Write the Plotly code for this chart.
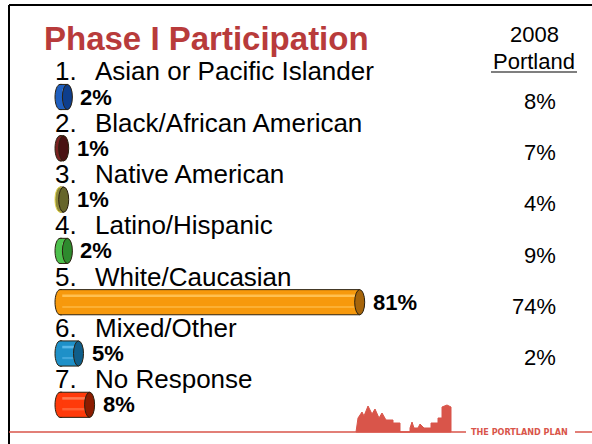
import plotly.graph_objects as go

# ---- data ----
categories = ["Asian or Pacific Islander", "Black/African American", "Native American",
              "Latino/Hispanic", "White/Caucasian", "Mixed/Other", "No Response"]
phase1_pct = [2, 1, 1, 2, 81, 5, 8]
portland_2008 = [8, 7, 4, 9, 74, 2, None]
body_colors = ["#1F5FBF", "#7A2222", "#8E8A3A", "#4CC04C", "#F7990C", "#1E90C8", "#FF3A0A"]
cap_colors = ["#0E3E8C", "#4A1212", "#66652A", "#2E8A2E", "#A7650A", "#0F5E8A", "#8C1C00"]
hi_colors = ["#5A8EE0", "#A04848", "#B8B460", "#80E080", "#FFC050", "#5AB8E8", "#FF7A50"]
rim_colors = ["#2A2010", "#2A2010", "#E8D850", "#2A2010", "#2A2010", "#2A2010", "#2A2010"]

W, H = 592, 444
PX_PER_UNIT = 3.7
ZERO_PX = 60
ROW0_PX, ROW_STEP = 97, 51.3

def px(x):
    return x / W

def py(y):
    return 1 - y / H

xr = [-ZERO_PX / PX_PER_UNIT, (W - ZERO_PX) / PX_PER_UNIT]
yr = [(H - ROW0_PX) / ROW_STEP, -ROW0_PX / ROW_STEP]

idx = list(range(len(categories)))
bar_w = 0.49
cap_a = 5 / PX_PER_UNIT

fig = go.Figure()
fig.add_trace(go.Bar(
    x=phase1_pct, y=idx, orientation="h", width=bar_w,
    marker=dict(color=body_colors, line=dict(color="#2A2010", width=1)),
    hoverinfo="skip", showlegend=False))
fig.add_trace(go.Bar(
    x=phase1_pct, y=idx, orientation="h", width=0.05, offset=-0.15,
    marker=dict(color=hi_colors, line=dict(width=0)),
    hoverinfo="skip", showlegend=False))
fig.add_trace(go.Bar(
    x=phase1_pct, y=idx, orientation="h", width=0.03, offset=0.08,
    marker=dict(color=hi_colors, line=dict(width=0), opacity=0.6),
    hoverinfo="skip", showlegend=False))

shapes = []
annotations = []
k = 0.5523
for i, v in enumerate(phase1_pct):
    top, bot = i - bar_w / 2, i + bar_w / 2
    hb = bar_w / 2
    ext = min(0.6, v * 0.5)
    # left half-ellipse cap
    path = (f"M {ext},{top} L 0,{top} "
            f"C {-k*cap_a},{top} {-cap_a},{i - k*hb} {-cap_a},{i} "
            f"C {-cap_a},{i + k*hb} {-k*cap_a},{bot} 0,{bot} L {ext},{bot}")
    shapes.append(dict(type="path", xref="x", yref="y", path=path,
                       fillcolor=body_colors[i], line=dict(color=rim_colors[i], width=1),
                       layer="above"))
    # right full ellipse cap
    shapes.append(dict(type="circle", xref="x", yref="y",
                       x0=v - cap_a, x1=v + cap_a, y0=top, y1=bot,
                       fillcolor=cap_colors[i], line=dict(color="#2A2010", width=1),
                       layer="above"))
    annotations.append(dict(x=v, y=i, xref="x", yref="y", xanchor="left", yanchor="middle",
                            xshift=5 + 6, showarrow=False,
                            text=f"<b>{v}%</b>", font=dict(size=22, color="black")))
    # category labels
    annotations.append(dict(x=px(53), y=i - 0.5, xref="paper", yref="y", xanchor="left",
                            yanchor="middle", showarrow=False, text=f"{i+1}.",
                            font=dict(size=26, color="black")))
    annotations.append(dict(x=px(93), y=i - 0.5, xref="paper", yref="y", xanchor="left",
                            yanchor="middle", showarrow=False, text=categories[i],
                            font=dict(size=26, color="black")))
    p = portland_2008[i]
    if p is not None:
        annotations.append(dict(x=px(558), y=i + 0.08, xref="paper", yref="y", xanchor="right",
                                yanchor="middle", showarrow=False, text=f"{p}%",
                                font=dict(size=22, color="black")))

# title and column header
annotations.append(dict(x=px(42), y=py(38), xref="paper", yref="paper", xanchor="left",
                        yanchor="middle", showarrow=False, text="<b>Phase I Participation</b>",
                        font=dict(size=33, color="#B83B3B")))
annotations.append(dict(x=px(534), y=py(35), xref="paper", yref="paper", xanchor="center",
                        yanchor="middle", showarrow=False, text="2008",
                        font=dict(size=22, color="black")))
annotations.append(dict(x=px(534), y=py(61), xref="paper", yref="paper", xanchor="center",
                        yanchor="middle", showarrow=False, text="Portland",
                        font=dict(size=22, color="black")))
shapes.append(dict(type="line", xref="paper", yref="paper", x0=px(491), x1=px(577),
                   y0=py(72), y1=py(72), line=dict(color="black", width=1.2)))

# slide frame
shapes.append(dict(type="line", xref="paper", yref="paper", x0=px(9), x1=px(592),
                   y0=py(5), y1=py(5), line=dict(color="black", width=2)))
shapes.append(dict(type="line", xref="paper", yref="paper", x0=px(9), x1=px(9),
                   y0=py(5), y1=py(444), line=dict(color="black", width=2)))

# footer logo
red = "#D9554A"
shapes.append(dict(type="line", xref="paper", yref="paper", x0=px(9), x1=px(466),
                   y0=py(432), y1=py(432), line=dict(color=red, width=1.5)))
shapes.append(dict(type="line", xref="paper", yref="paper", x0=px(575), x1=px(592),
                   y0=py(432), y1=py(432), line=dict(color=red, width=1.5)))
sky = [(356, 432), (358, 418), (362, 412), (364, 416), (368, 406), (372, 414), (375, 409),
       (379, 418), (382, 413), (386, 420), (393, 420), (393, 423), (400, 423), (400, 432),
       (410, 432), (410, 428), (412, 422), (414, 428), (418, 428), (420, 424), (424, 428),
       (431, 428), (431, 423), (438, 423), (438, 418), (442, 418), (442, 407), (447, 405),
       (451, 407), (451, 432)]
path = "M " + " L ".join(f"{px(x)},{py(y)}" for x, y in sky) + " Z"
shapes.append(dict(type="path", xref="paper", yref="paper", path=path,
                   fillcolor=red, line=dict(color=red, width=1)))
annotations.append(dict(x=px(469), y=py(432), xref="paper", yref="paper", xanchor="left",
                        yanchor="middle", showarrow=False, text="<b>THE PORTLAND PLAN</b>",
                        font=dict(size=9, color=red, family="DejaVu Sans Condensed, Liberation Sans Narrow, sans-serif")))

fig.update_layout(
    width=W, height=H, margin=dict(l=0, r=0, t=0, b=0),
    paper_bgcolor="white", plot_bgcolor="white",
    barmode="overlay",
    font=dict(family="Liberation Sans, Arial, sans-serif"),
    xaxis=dict(range=xr, visible=False, fixedrange=True),
    yaxis=dict(range=yr, visible=False, fixedrange=True),
    shapes=shapes, annotations=annotations, showlegend=False,
)

fig.write_html("out.html", config={"displayModeBar": False},
               post_script="document.body.style.margin='0';document.body.style.overflow='hidden';")
